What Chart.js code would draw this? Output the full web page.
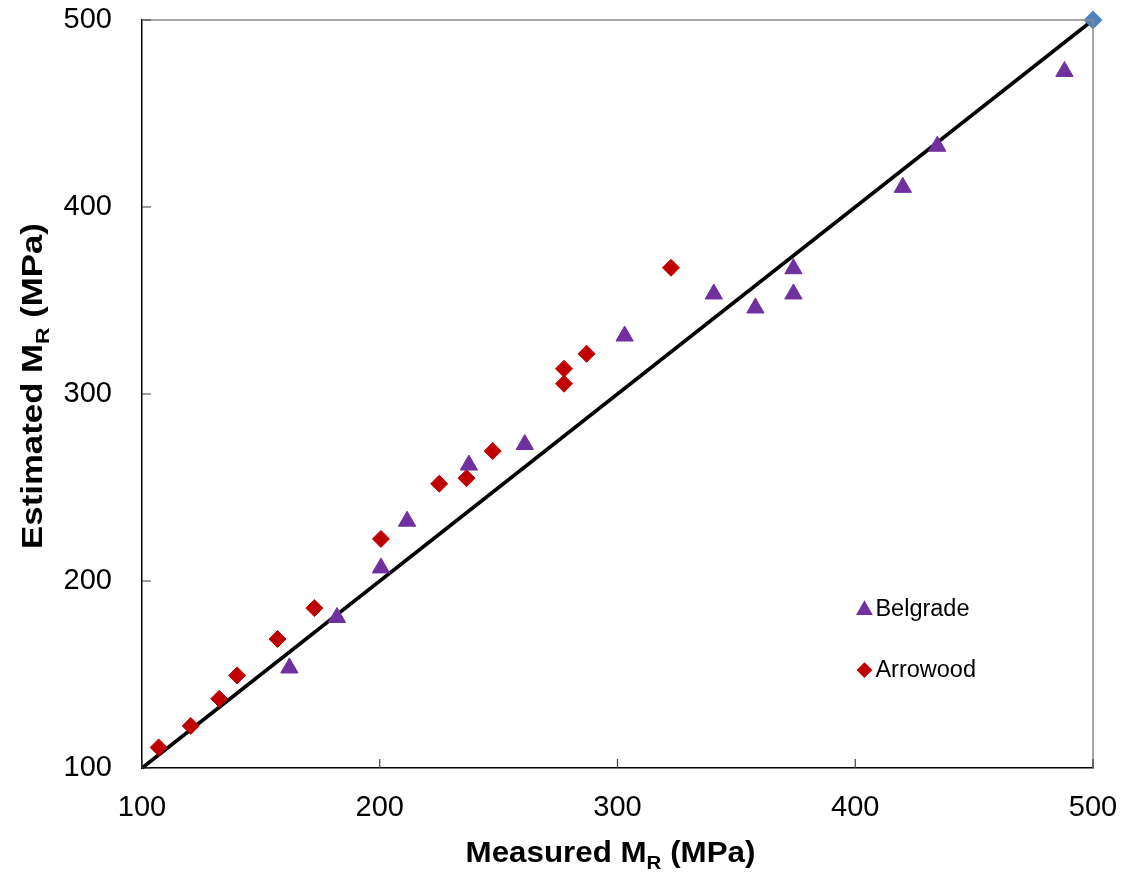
<!DOCTYPE html>
<html>
<head>
<meta charset="utf-8">
<script src="https://cdn.jsdelivr.net/npm/chart.js@4.4.0/dist/chart.umd.min.js"></script>
<style>
  html, body { margin: 0; padding: 0; background: #fff; }
  #wrap { width: 1123px; height: 878px; }
</style>
</head>
<body>
<div id="wrap"><canvas id="chart"></canvas></div>
<script>
// Belgrade (triangles)
const belgradeMeasured  = [162, 182, 200.5, 211.5, 237.5, 261, 303, 340.5, 358, 374, 374, 420, 434.5, 488];
const belgradeEstimated = [153.5, 180.5, 207, 232, 262, 273, 331, 353.5, 346, 367, 353.5, 410.5, 432.5, 472.5];

// Arrowood (diamonds)
const arrowoodMeasured  = [107, 120.5, 132.5, 140, 157, 172.5, 200.5, 225, 236.5, 247.5, 277.5, 277.5, 287, 322.5];
const arrowoodEstimated = [111, 122.5, 137, 149.5, 169, 185.5, 222.5, 252, 255, 269.5, 305.5, 313.5, 321.5, 367.5];

// line of equality
const equalityLine = [100, 500];

const axisMin = 100, axisMax = 500, axisStep = 100;

const FONT = "'Liberation Sans', Arial, sans-serif";

const toPoints = (xs, ys) => xs.map((x, i) => ({ x: x, y: ys[i] }));

// axis titles with subscript R, inward tick marks, gray top/right frame, inner legend
const decorations = {
    id: "decorations",
    afterDraw(chart) {
        const ctx = chart.ctx;
        const area = chart.chartArea;
        const xs = chart.scales.x, ys = chart.scales.y;

        ctx.save();
        // top/right frame
        ctx.strokeStyle = "#8c8c8c";
        ctx.lineWidth = 1.5;
        ctx.beginPath();
        ctx.moveTo(area.left, area.top);
        ctx.lineTo(area.right, area.top);
        ctx.lineTo(area.right, area.bottom);
        ctx.stroke();

        // inward ticks
        ctx.strokeStyle = "#404040";
        ctx.lineWidth = 1.2;
        ctx.beginPath();
        xs.ticks.forEach(t => {
            const px = xs.getPixelForValue(t.value);
            ctx.moveTo(px, area.bottom);
            ctx.lineTo(px, area.bottom - 9);
        });
        ys.ticks.forEach(t => {
            const py = ys.getPixelForValue(t.value);
            ctx.moveTo(area.left, py);
            ctx.lineTo(area.left + 9, py);
        });
        ctx.stroke();

        // axis titles
        const drawTitle = (pre, sub, post, cx, cy, rot, stretch) => {
            ctx.save();
            ctx.translate(cx, cy);
            ctx.rotate(rot);
            ctx.scale(stretch, 1);
            const big = "bold 29px " + FONT, small = "bold 19px " + FONT;
            ctx.font = big;
            const w1 = ctx.measureText(pre).width, w3 = ctx.measureText(post).width;
            ctx.font = small;
            const w2 = ctx.measureText(sub).width;
            let x = -(w1 + w2 + w3) / 2;
            ctx.fillStyle = "#000";
            ctx.textBaseline = "alphabetic";
            ctx.textAlign = "left";
            ctx.font = big;
            ctx.fillText(pre, x, 10);
            x += w1;
            ctx.font = small;
            ctx.fillText(sub, x, 17);
            x += w2;
            ctx.font = big;
            ctx.fillText(post, x, 10);
            ctx.restore();
        };
        drawTitle("Measured M", "R", " (MPa)", (area.left + area.right) / 2 - 7, 852, 0, 1.08);
        drawTitle("Estimated M", "R", " (MPa)", 32, (area.top + area.bottom) / 2 - 8, -Math.PI / 2, 1.2);

        // legend inside the plot
        const items = [chart.data.datasets[0], chart.data.datasets[1]];
        const lx = xs.getPixelForValue(400.5), ly0 = ys.getPixelForValue(185);
        items.forEach((ds, i) => {
            const y = ly0 + i * 61;
            ctx.fillStyle = ds.backgroundColor;
            ctx.strokeStyle = ds.borderColor;
            Chart.helpers.drawPoint(ctx, {
                pointStyle: ds.pointStyle,
                radius: ds.pointStyle === "triangle" ? 8.5 : 7,
                borderWidth: 1
            }, lx + 8, y + (ds.pointStyle === "triangle" ? 1 : 0));
            ctx.fillStyle = "#000";
            ctx.font = "23.5px " + FONT;
            ctx.textAlign = "left";
            ctx.textBaseline = "middle";
            ctx.fillText(ds.label, lx + 19, y);
        });
        ctx.restore();
    }
};

new Chart(document.getElementById("chart"), {
    type: "scatter",
    data: {
        datasets: [
            {
                label: "Belgrade",
                data: toPoints(belgradeMeasured, belgradeEstimated),
                pointStyle: "triangle",
                pointRadius: 10,
                backgroundColor: "#7030a0",
                borderColor: "#7030a0",
                borderWidth: 1,
                clip: false,
            },
            {
                label: "Arrowood",
                data: toPoints(arrowoodMeasured, arrowoodEstimated),
                pointStyle: "rectRot",
                pointRadius: 8.5,
                backgroundColor: "#c00000",
                borderColor: "#c00000",
                borderWidth: 1,
                clip: false,
            },
            {
                label: "Equality",
                data: toPoints(equalityLine, equalityLine),
                showLine: true,
                borderColor: "#000",
                borderWidth: 3.5,
                pointStyle: "rectRot",
                pointRadius: [0, 7],
                backgroundColor: "#4f81bd",
                pointBorderColor: "#4f81bd",
                pointBackgroundColor: "#4f81bd",
                clip: false,
            },
        ],
    },
    options: {
        responsive: true,
        maintainAspectRatio: false,
        animation: false,
        events: [],
        layout: { padding: { left: 0, top: 20, right: 30, bottom: 0 } },
        plugins: {
            legend: { display: false },
            tooltip: { enabled: false },
        },
        scales: {
            x: {
                type: "linear",
                min: axisMin,
                max: axisMax,
                afterFit: (s) => { s.height = 110; s.paddingLeft = 0; s.paddingRight = 0; },
                grid: { display: true, drawOnChartArea: false, drawTicks: false },
                border: { color: "#000", width: 1.5 },
                ticks: {
                    stepSize: axisStep,
                    padding: 23,
                    color: "#000",
                    font: { family: FONT, size: 29 },
                },
            },
            y: {
                type: "linear",
                min: axisMin,
                max: axisMax,
                afterFit: (s) => { s.width = 142; s.paddingTop = 0; s.paddingBottom = 0; },
                grid: { display: true, drawOnChartArea: false, drawTicks: false },
                border: { color: "#000", width: 1.5 },
                ticks: {
                    stepSize: axisStep,
                    padding: 30,
                    color: "#000",
                    font: { family: FONT, size: 29 },
                },
            },
        },
    },
    plugins: [decorations],
});
</script>
</body>
</html>
